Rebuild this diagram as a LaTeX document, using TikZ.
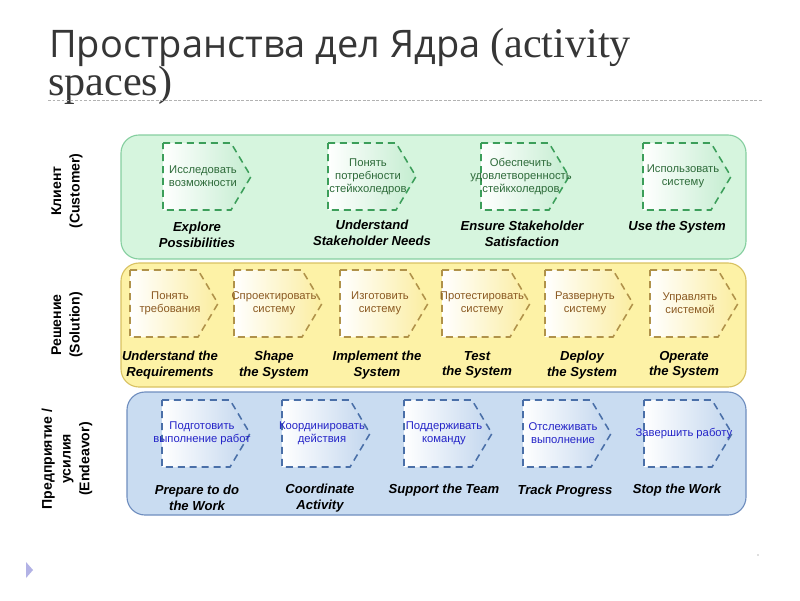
\documentclass[tikz,border=0pt]{standalone}
\usepackage{fontspec}
\setmainfont{Liberation Sans}
\newfontfamily\titlefont{Open Sans}
\newfontfamily\seriffont{Liberation Serif}
\definecolor{bandG}{HTML}{D6F5DE}
\definecolor{bandGd}{HTML}{86CFA0}
\definecolor{chevG}{HTML}{3C9E5A}
\definecolor{chevGf}{HTML}{C4EDD0}
\definecolor{txtG}{HTML}{2E6B3A}
\definecolor{bandY}{HTML}{FDF2A6}
\definecolor{bandYd}{HTML}{D9C262}
\definecolor{chevY}{HTML}{B0924A}
\definecolor{chevYf}{HTML}{FBEDA0}
\definecolor{txtY}{HTML}{8B5A22}
\definecolor{bandB}{HTML}{C9DCF1}
\definecolor{bandBd}{HTML}{6F8EBF}
\definecolor{chevB}{HTML}{4A6FA8}
\definecolor{chevBf}{HTML}{C2D6EE}
\definecolor{txtB}{HTML}{2424C8}
\definecolor{titlegray}{HTML}{363636}
\tikzset{
  band/.style={rounded corners=0.45cm, line width=0.8pt},
  chev/.style={dash pattern=on 5pt off 3.5pt, line width=1.1pt},
  ctext/.style={font=\fontsize{8}{9.2}\selectfont, align=center, inner sep=0pt},
  lbl/.style={font=\fontsize{9.3}{11}\selectfont\bfseries\itshape, align=center, inner sep=0pt},
  rowlbl/.style={font=\fontsize{10}{13.3}\selectfont\bfseries, rotate=90, align=center, inner sep=0pt},
}
% name, x, y, fill colour, draw colour, text, text colour
\newcommand\chevbox[7]{%
  \draw[chev, draw=#5, left color=white, right color=#4]
    (#2,#3) -- ++(68,0) -- ++(20,33.5) -- ++(-20,33.5) -- ++(-68,0) -- cycle;
  \node[ctext, text=#7] (#1) at ({#2+40},{#3+33.5}) {#6};
}
\begin{document}
\begin{tikzpicture}[x=0.025cm, y=-0.025cm]
\useasboundingbox (0,0) rectangle (800,600);
\fill[white] (0,0) rectangle (800,600);

% title
\node[anchor=base west, inner sep=0pt, text=titlegray, font=\fontsize{27}{32}\selectfont\titlefont] (title1) at (49,57)
  {Пространства дел Ядра {\fontsize{30}{34}\selectfont\seriffont(activity}};
\node[anchor=base west, inner sep=0pt, text=titlegray, font=\fontsize{30}{34}\selectfont\seriffont] (title2) at (48,95)
  {spaces)};
\coordinate (rule1) at (48,100);
\coordinate (rule2) at (762,100);
\draw[gray!60, line width=0.5pt, dash pattern=on 2pt off 1.2pt] (rule1) -- (rule2);

% bands
\draw[band, fill=bandG, draw=bandGd] (121,135) rectangle (746,259);
\draw[band, fill=bandY, draw=bandYd] (121,263) rectangle (746,387);
\draw[band, fill=bandB, draw=bandBd] (127,392) rectangle (746,515);

% row labels
\node[rowlbl] (rowC) at (67,191) {Клиент\\(Customer)};
\node[rowlbl] (rowS) at (67,325) {Решение\\(Solution)};
\node[rowlbl] (rowE) at (67,459) {Предприятие /\\усилия\\(Endeavor)};

% customer
\chevbox{g1}{163}{143}{chevGf}{chevG}{Исследовать\\возможности}{txtG}
\chevbox{g2}{328}{143}{chevGf}{chevG}{Понять\\потребности\\стейкхоледров}{txtG}
\chevbox{g3}{481}{143}{chevGf}{chevG}{Обеспечить\\удовлетворенность\\стейкхоледров}{txtG}
\chevbox{g4}{643}{143}{chevGf}{chevG}{Использовать\\систему}{txtG}
\node[lbl] (lg1) at (197,235) {Explore\\Possibilities};
\node[lbl] (lg2) at (372,233) {Understand\\Stakeholder Needs};
\node[lbl] (lg3) at (522,234) {Ensure Stakeholder\\Satisfaction};
\node[lbl] (lg4) at (677,227) {Use the System};

% solution
\chevbox{y1}{130}{270}{chevYf}{chevY}{Понять\\требования}{txtY}
\chevbox{y2}{234}{270}{chevYf}{chevY}{Спроектировать\\систему}{txtY}
\chevbox{y3}{340}{270}{chevYf}{chevY}{Изготовить\\систему}{txtY}
\chevbox{y4}{442}{270}{chevYf}{chevY}{Протестировать\\систему}{txtY}
\chevbox{y5}{545}{270}{chevYf}{chevY}{Развернуть\\систему}{txtY}
\chevbox{y6}{650}{270}{chevYf}{chevY}{Управлять\\системой}{txtY}
\node[lbl] (ly1) at (170,365) {Understand the\\Requirements};
\node[lbl] (ly2) at (274,365) {Shape\\the System};
\node[lbl] (ly3) at (377,365) {Implement the\\System};
\node[lbl] (ly4) at (477,365) {Test\\the System};
\node[lbl] (ly5) at (582,365) {Deploy\\the System};
\node[lbl] (ly6) at (684,365) {Operate\\the System};

% endeavor
\chevbox{b1}{162}{400}{chevBf}{chevB}{Подготовить\\выполнение работ}{txtB}
\chevbox{b2}{282}{400}{chevBf}{chevB}{Координировать\\действия}{txtB}
\chevbox{b3}{404}{400}{chevBf}{chevB}{Поддерживать\\команду}{txtB}
\chevbox{b4}{523}{400}{chevBf}{chevB}{Отслеживать\\выполнение}{txtB}
\chevbox{b5}{644}{400}{chevBf}{chevB}{Завершить работу}{txtB}
\node[lbl] (lb1) at (197,498) {Prepare to do\\the Work};
\node[lbl] (lb2) at (320,498) {Coordinate\\Activity};
\node[lbl] (lb3) at (444,490) {Support the Team};
\node[lbl] (lb4) at (565,491) {Track Progress};
\node[lbl] (lb5) at (677,490) {Stop the Work};

% bottom marks
\fill[gray!50!blue!40] (26,562) -- (33,570) -- (26,578) -- cycle;
\fill[gray!50] (758,555) circle (0.8);
\end{tikzpicture}
\end{document}
